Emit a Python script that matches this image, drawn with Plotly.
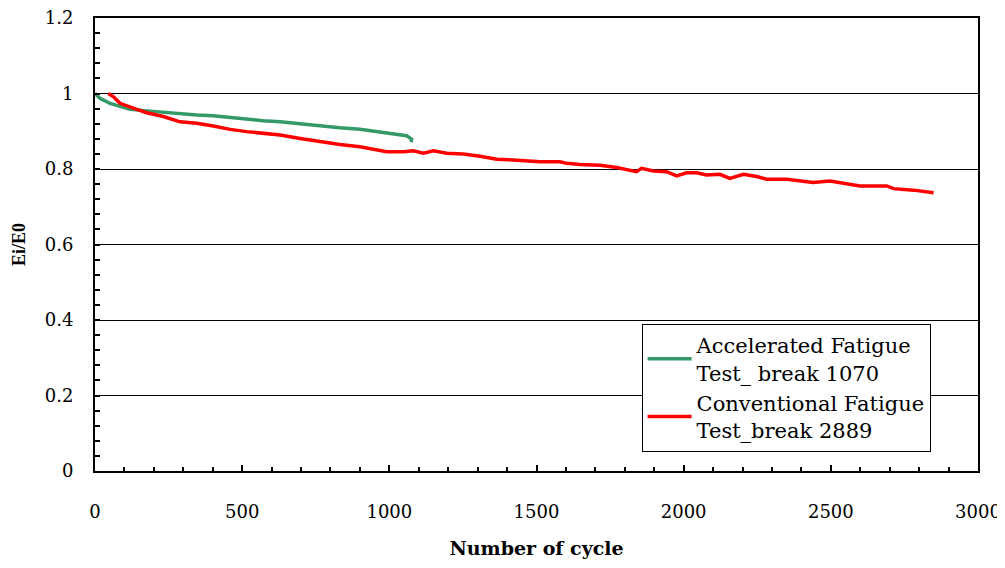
import plotly.graph_objects as go

# ===== Data =====
acc_cycles = [0, 17, 51, 85, 119, 176, 231, 289, 346, 401, 459, 515, 571, 629,
              697, 764, 832, 900, 957, 1014, 1059, 1076, 1074]
acc_ratio = [1.0, 0.987, 0.974, 0.965, 0.958, 0.954, 0.950, 0.948, 0.943, 0.941,
             0.936, 0.932, 0.928, 0.925, 0.919, 0.914, 0.909, 0.905, 0.899,
             0.892, 0.888, 0.879, 0.871]

conv_cycles = [45, 62, 85, 108, 142, 176, 232, 289, 346, 402, 459, 515, 572, 629,
               697, 764, 832, 900, 957, 991, 1048, 1081, 1116, 1150, 1195, 1251,
               1308, 1365, 1421, 1478, 1512, 1580, 1603, 1648, 1716, 1772, 1840,
               1857, 1897, 1942, 1976, 2010, 2044, 2078, 2123, 2157, 2203, 2248,
               2282, 2350, 2395, 2440, 2497, 2554, 2599, 2690, 2713, 2781, 2849]
conv_ratio = [1.0, 0.992, 0.974, 0.967, 0.958, 0.949, 0.939, 0.925, 0.921, 0.914,
              0.905, 0.899, 0.894, 0.890, 0.881, 0.872, 0.865, 0.859, 0.852,
              0.846, 0.846, 0.848, 0.842, 0.848, 0.842, 0.840, 0.834, 0.826,
              0.824, 0.822, 0.819, 0.819, 0.815, 0.812, 0.810, 0.804, 0.793,
              0.802, 0.795, 0.793, 0.782, 0.790, 0.790, 0.784, 0.786, 0.775,
              0.786, 0.780, 0.773, 0.773, 0.769, 0.764, 0.768, 0.762, 0.755,
              0.755, 0.748, 0.744, 0.737]

acc_name = "Accelerated Fatigue<br>Test_ break 1070"
conv_name = "Conventional Fatigue<br>Test_break 2889"

serif = "DejaVu Serif"

fig = go.Figure()

fig.add_trace(go.Scatter(
    x=acc_cycles, y=acc_ratio, mode="lines", name=acc_name,
    line=dict(color="#339966", width=3.5)
))
fig.add_trace(go.Scatter(
    x=conv_cycles, y=conv_ratio, mode="lines", name=conv_name,
    line=dict(color="#ff0000", width=3.5)
))

# page body has an 8px margin, so the figure is a bit smaller than the window
fig.update_layout(
    width=997, height=560,
    margin=dict(l=87, r=27, t=10, b=97),
    paper_bgcolor="white", plot_bgcolor="white",
    font=dict(family=serif, size=18, color="black"),
    showlegend=True,
    legend=dict(
        x=0.619, y=0.3245, xanchor="left", yanchor="top",
        bgcolor="white", bordercolor="black", borderwidth=1,
        font=dict(family=serif, size=21),
        itemwidth=44, tracegroupgap=0,
        entrywidth=300, entrywidthmode="pixels"
    ),
    xaxis=dict(
        range=[0, 3000], dtick=500, tick0=0, automargin=False,
        showgrid=False, zeroline=False,
        showline=True, linecolor="black", linewidth=1.5, mirror=True,
        ticks="inside", ticklen=6, tickcolor="black", tickwidth=1.5,
        minor=dict(dtick=100, ticks="inside", ticklen=4, tickcolor="black"),
        ticklabelstandoff=24, ticklabeloverflow="allow",
        title=dict(text="<b>Number of cycle</b>", standoff=20,
                   font=dict(family=serif, size=19)),
    ),
    yaxis=dict(
        range=[0, 1.2], dtick=0.2, tick0=0, automargin=False,
        showgrid=True, gridcolor="black", gridwidth=1,
        zeroline=False,
        showline=True, linecolor="black", linewidth=2, mirror=True,
        ticks="inside", ticklen=5, tickcolor="black", tickwidth=1.5,
        minor=dict(dtick=0.04, ticks="inside", ticklen=5, tickcolor="black"),
        ticklabelstandoff=16, ticklabeloverflow="allow",
        title=dict(text="<b>Ei/E0</b>", standoff=14,
                   font=dict(family="Liberation Serif", size=18)),
    ),
)

fig.write_html("out.html")
